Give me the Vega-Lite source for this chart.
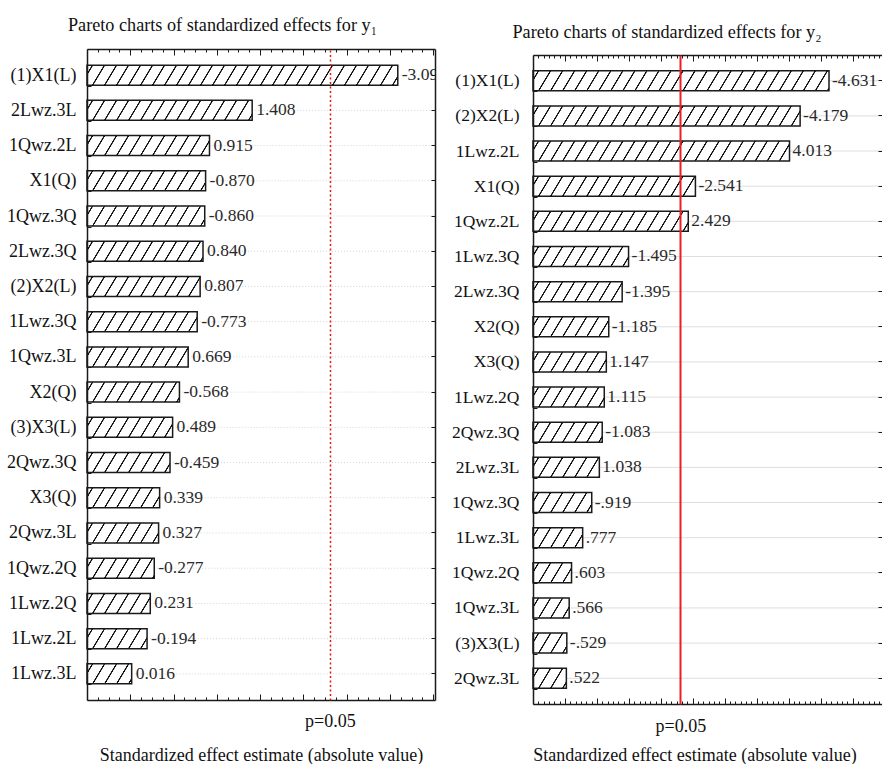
{
  "$schema": "https://vega.github.io/schema/vega-lite/v6.json",
  "background": "white",
  "padding": {"left": 6, "top": 15, "right": 0, "bottom": 0},
  "datasets": {
    "y1": [
      {"term": "(1)X1(L)", "value": 3.09, "label": "-3.09"},
      {"term": "2Lwz.3L", "value": 1.408, "label": "1.408"},
      {"term": "1Qwz.2L", "value": 0.915, "label": "0.915"},
      {"term": "X1(Q)", "value": 0.87, "label": "-0.870"},
      {"term": "1Qwz.3Q", "value": 0.86, "label": "-0.860"},
      {"term": "2Lwz.3Q", "value": 0.84, "label": "0.840"},
      {"term": "(2)X2(L)", "value": 0.807, "label": "0.807"},
      {"term": "1Lwz.3Q", "value": 0.773, "label": "-0.773"},
      {"term": "1Qwz.3L", "value": 0.669, "label": "0.669"},
      {"term": "X2(Q)", "value": 0.568, "label": "-0.568"},
      {"term": "(3)X3(L)", "value": 0.489, "label": "0.489"},
      {"term": "2Qwz.3Q", "value": 0.459, "label": "-0.459"},
      {"term": "X3(Q)", "value": 0.339, "label": "0.339"},
      {"term": "2Qwz.3L", "value": 0.327, "label": "0.327"},
      {"term": "1Qwz.2Q", "value": 0.277, "label": "-0.277"},
      {"term": "1Lwz.2Q", "value": 0.231, "label": "0.231"},
      {"term": "1Lwz.2L", "value": 0.194, "label": "-0.194"},
      {"term": "1Lwz.3L", "value": 0.016, "label": "0.016"}
    ],
    "y2": [
      {"term": "(1)X1(L)", "value": 4.631, "label": "-4.631"},
      {"term": "(2)X2(L)", "value": 4.179, "label": "-4.179"},
      {"term": "1Lwz.2L", "value": 4.013, "label": "4.013"},
      {"term": "X1(Q)", "value": 2.541, "label": "-2.541"},
      {"term": "1Qwz.2L", "value": 2.429, "label": "2.429"},
      {"term": "1Lwz.3Q", "value": 1.495, "label": "-1.495"},
      {"term": "2Lwz.3Q", "value": 1.395, "label": "-1.395"},
      {"term": "X2(Q)", "value": 1.185, "label": "-1.185"},
      {"term": "X3(Q)", "value": 1.147, "label": "1.147"},
      {"term": "1Lwz.2Q", "value": 1.115, "label": "1.115"},
      {"term": "2Qwz.3Q", "value": 1.083, "label": "-1.083"},
      {"term": "2Lwz.3L", "value": 1.038, "label": "1.038"},
      {"term": "1Qwz.3Q", "value": 0.919, "label": "-.919"},
      {"term": "1Lwz.3L", "value": 0.777, "label": ".777"},
      {"term": "1Qwz.2Q", "value": 0.603, "label": ".603"},
      {"term": "1Qwz.3L", "value": 0.566, "label": ".566"},
      {"term": "(3)X3(L)", "value": 0.529, "label": "-.529"},
      {"term": "2Qwz.3L", "value": 0.522, "label": ".522"}
    ]
  },
  "spacing": 98,
  "bounds": "flush",
  "hconcat": [
    {
      "width": 348,
      "height": 651,
      "data": {"name": "y1"},
      "title": {"text": "Pareto charts of standardized effects for y₁", "offset": 5, "frame": "group", "anchor": "middle", "dx": -38.5, "font": "Liberation Serif", "fontSize": 18.2, "fontWeight": "normal", "color": "#111"},
      "resolve": {"axis": {"x": "independent", "y": "independent"}},
      "layer": [
        {
          "mark": {"type": "bar", "size": 20, "stroke": null,
            "fill": {
              "gradient": "linear", "x1": 0, "y1": 0, "x2": 1.1, "y2": 0.0379,
              "stops": [
                {"offset": 0, "color": "#fff"},
                {"offset": 0.0120, "color": "#fff"}, {"offset": 0.0133, "color": "#111"}, {"offset": 0.0159, "color": "#111"}, {"offset": 0.0172, "color": "#fff"},
                {"offset": 0.0433, "color": "#fff"}, {"offset": 0.0446, "color": "#111"}, {"offset": 0.0472, "color": "#111"}, {"offset": 0.0485, "color": "#fff"},
                {"offset": 0.0746, "color": "#fff"}, {"offset": 0.0759, "color": "#111"}, {"offset": 0.0785, "color": "#111"}, {"offset": 0.0798, "color": "#fff"},
                {"offset": 0.1059, "color": "#fff"}, {"offset": 0.1072, "color": "#111"}, {"offset": 0.1098, "color": "#111"}, {"offset": 0.1111, "color": "#fff"},
                {"offset": 0.1372, "color": "#fff"}, {"offset": 0.1385, "color": "#111"}, {"offset": 0.1411, "color": "#111"}, {"offset": 0.1424, "color": "#fff"},
                {"offset": 0.1686, "color": "#fff"}, {"offset": 0.1699, "color": "#111"}, {"offset": 0.1725, "color": "#111"}, {"offset": 0.1738, "color": "#fff"},
                {"offset": 0.1999, "color": "#fff"}, {"offset": 0.2012, "color": "#111"}, {"offset": 0.2038, "color": "#111"}, {"offset": 0.2051, "color": "#fff"},
                {"offset": 0.2312, "color": "#fff"}, {"offset": 0.2325, "color": "#111"}, {"offset": 0.2351, "color": "#111"}, {"offset": 0.2364, "color": "#fff"},
                {"offset": 0.2625, "color": "#fff"}, {"offset": 0.2638, "color": "#111"}, {"offset": 0.2664, "color": "#111"}, {"offset": 0.2677, "color": "#fff"},
                {"offset": 0.2938, "color": "#fff"}, {"offset": 0.2951, "color": "#111"}, {"offset": 0.2977, "color": "#111"}, {"offset": 0.2990, "color": "#fff"},
                {"offset": 0.3251, "color": "#fff"}, {"offset": 0.3264, "color": "#111"}, {"offset": 0.3290, "color": "#111"}, {"offset": 0.3303, "color": "#fff"},
                {"offset": 0.3564, "color": "#fff"}, {"offset": 0.3577, "color": "#111"}, {"offset": 0.3603, "color": "#111"}, {"offset": 0.3616, "color": "#fff"},
                {"offset": 0.3877, "color": "#fff"}, {"offset": 0.3890, "color": "#111"}, {"offset": 0.3916, "color": "#111"}, {"offset": 0.3929, "color": "#fff"},
                {"offset": 0.4190, "color": "#fff"}, {"offset": 0.4203, "color": "#111"}, {"offset": 0.4229, "color": "#111"}, {"offset": 0.4242, "color": "#fff"},
                {"offset": 0.4503, "color": "#fff"}, {"offset": 0.4516, "color": "#111"}, {"offset": 0.4542, "color": "#111"}, {"offset": 0.4555, "color": "#fff"},
                {"offset": 0.4817, "color": "#fff"}, {"offset": 0.4830, "color": "#111"}, {"offset": 0.4856, "color": "#111"}, {"offset": 0.4869, "color": "#fff"},
                {"offset": 0.5130, "color": "#fff"}, {"offset": 0.5143, "color": "#111"}, {"offset": 0.5169, "color": "#111"}, {"offset": 0.5182, "color": "#fff"},
                {"offset": 0.5443, "color": "#fff"}, {"offset": 0.5456, "color": "#111"}, {"offset": 0.5482, "color": "#111"}, {"offset": 0.5495, "color": "#fff"},
                {"offset": 0.5756, "color": "#fff"}, {"offset": 0.5769, "color": "#111"}, {"offset": 0.5795, "color": "#111"}, {"offset": 0.5808, "color": "#fff"},
                {"offset": 0.6069, "color": "#fff"}, {"offset": 0.6082, "color": "#111"}, {"offset": 0.6108, "color": "#111"}, {"offset": 0.6121, "color": "#fff"},
                {"offset": 0.6382, "color": "#fff"}, {"offset": 0.6395, "color": "#111"}, {"offset": 0.6421, "color": "#111"}, {"offset": 0.6434, "color": "#fff"},
                {"offset": 0.6695, "color": "#fff"}, {"offset": 0.6708, "color": "#111"}, {"offset": 0.6734, "color": "#111"}, {"offset": 0.6747, "color": "#fff"},
                {"offset": 0.7008, "color": "#fff"}, {"offset": 0.7021, "color": "#111"}, {"offset": 0.7047, "color": "#111"}, {"offset": 0.7060, "color": "#fff"},
                {"offset": 0.7321, "color": "#fff"}, {"offset": 0.7334, "color": "#111"}, {"offset": 0.7360, "color": "#111"}, {"offset": 0.7373, "color": "#fff"},
                {"offset": 0.7634, "color": "#fff"}, {"offset": 0.7647, "color": "#111"}, {"offset": 0.7673, "color": "#111"}, {"offset": 0.7686, "color": "#fff"},
                {"offset": 0.7948, "color": "#fff"}, {"offset": 0.7961, "color": "#111"}, {"offset": 0.7987, "color": "#111"}, {"offset": 0.8000, "color": "#fff"},
                {"offset": 0.8261, "color": "#fff"}, {"offset": 0.8274, "color": "#111"}, {"offset": 0.8300, "color": "#111"}, {"offset": 0.8313, "color": "#fff"},
                {"offset": 0.8574, "color": "#fff"}, {"offset": 0.8587, "color": "#111"}, {"offset": 0.8613, "color": "#111"}, {"offset": 0.8626, "color": "#fff"},
                {"offset": 0.8887, "color": "#fff"}, {"offset": 0.8900, "color": "#111"}, {"offset": 0.8926, "color": "#111"}, {"offset": 0.8939, "color": "#fff"},
                {"offset": 0.9200, "color": "#fff"}, {"offset": 0.9213, "color": "#111"}, {"offset": 0.9239, "color": "#111"}, {"offset": 0.9252, "color": "#fff"},
                {"offset": 1, "color": "#fff"}
              ]
            }
          },
          "encoding": {
            "y": {"field": "term", "type": "nominal", "sort": null, "scale": {"paddingInner": 0.4, "paddingOuter": 0.442},
              "axis": {"orient": "left", "title": null, "grid": false, "domain": true, "domainColor": "#1a1a1a", "domainWidth": 1.5, "ticks": true, "tickBand": "extent", "tickSize": -4, "tickColor": "#1a1a1a", "tickWidth": 1, "labelFont": "Liberation Serif", "labelFontSize": 18, "labelColor": "#111", "labelPadding": 15, "zindex": 1}},
            "x": {"datum": -0.5, "type": "quantitative", "scale": {"domain": [-0.5, 3.52], "nice": false, "zero": false},
              "axis": {"orient": "bottom", "title": null, "grid": false, "labels": false, "domain": true, "domainColor": "#1a1a1a", "domainWidth": 1.5, "ticks": true, "tickColor": "#1a1a1a", "tickWidth": 1,
                "tickSize": {"condition": {"test": "datum.value % 0.5 === 0", "value": -6}, "value": -3},
                "values": [-0.5, -0.375, -0.25, -0.125, 0, 0.125, 0.25, 0.375, 0.5, 0.625, 0.75, 0.875, 1, 1.125, 1.25, 1.375, 1.5, 1.625, 1.75, 1.875, 2, 2.125, 2.25, 2.375, 2.5, 2.625, 2.75, 2.875, 3, 3.125, 3.25, 3.375, 3.5],
                "zindex": 1}},
            "x2": {"datum": 3.52}
          }
        },
        {
          "mark": {"type": "bar", "fill": "white", "stroke": null, "size": 24},
          "encoding": {
            "y": {"field": "term", "type": "nominal", "sort": null, "scale": {"paddingInner": 0.4, "paddingOuter": 0.442},
              "axis": {"orient": "right", "title": null, "grid": false, "labels": false, "domain": true, "domainColor": "#1a1a1a", "domainWidth": 1.5, "ticks": true, "tickSize": -4, "tickColor": "#1a1a1a", "tickWidth": 1, "zindex": 1}},
            "x": {"field": "value", "type": "quantitative", "scale": {"domain": [-0.5, 3.52], "nice": false, "zero": false},
              "axis": {"orient": "top", "title": null, "grid": false, "labels": false, "domain": true, "domainColor": "#1a1a1a", "domainWidth": 1.5, "ticks": true, "tickColor": "#1a1a1a", "tickWidth": 1,
                "tickSize": {"condition": {"test": "datum.value % 0.5 === 0", "value": -6}, "value": -3},
                "values": [-0.5, -0.375, -0.25, -0.125, 0, 0.125, 0.25, 0.375, 0.5, 0.625, 0.75, 0.875, 1, 1.125, 1.25, 1.375, 1.5, 1.625, 1.75, 1.875, 2, 2.125, 2.25, 2.375, 2.5, 2.625, 2.75, 2.875, 3, 3.125, 3.25, 3.375, 3.5],
                "zindex": 1}},
            "x2": {"datum": 3.52}
          }
        },
        {
          "mark": {"type": "rule", "color": "#d4d4d4", "strokeWidth": 1, "strokeDash": [1, 2]},
          "encoding": {
            "y": {"field": "term", "type": "nominal", "sort": null, "scale": {"paddingInner": 0.4, "paddingOuter": 0.442}, "axis": null},
            "x": {"field": "value", "type": "quantitative", "scale": {"domain": [-0.5, 3.52], "nice": false, "zero": false},
              "axis": {"orient": "bottom", "title": null, "grid": false, "labels": false, "domain": false, "values": [2.306], "ticks": true, "tickSize": -651, "tickColor": "#e8141b", "tickWidth": 1.5, "tickDash": [2, 2.5], "zindex": 1}},
            "x2": {"datum": 3.52}
          }
        },
        {
          "mark": {"type": "bar", "fill": "transparent", "stroke": "#1a1a1a", "strokeWidth": 1.5, "size": 20},
          "encoding": {
            "y": {"field": "term", "type": "nominal", "sort": null, "scale": {"paddingInner": 0.4, "paddingOuter": 0.442}, "axis": null},
            "x": {"field": "value", "type": "quantitative", "scale": {"domain": [-0.5, 3.52], "nice": false, "zero": false},
              "axis": {"orient": "bottom", "grid": false, "domain": false, "ticks": false, "values": [2.306], "labelExpr": "'p=0.05'", "labelFlush": false, "labelOverlap": false, "labelFont": "Liberation Serif", "labelFontSize": 18, "labelColor": "#111", "labelPadding": 12,
                "title": "Standardized effect estimate (absolute value)", "titleFont": "Liberation Serif", "titleFontSize": 18, "titleFontWeight": "normal", "titleColor": "#111", "titlePadding": 16, "zindex": 1}},
            "x2": {"datum": -0.5}
          }
        },
        {
          "mark": {"type": "text", "align": "left", "baseline": "middle", "dx": 4, "font": "Liberation Serif", "fontSize": 17.5, "color": "#2a2a2a", "clip": true},
          "encoding": {
            "y": {"field": "term", "type": "nominal", "sort": null, "scale": {"paddingInner": 0.4, "paddingOuter": 0.442}, "axis": null},
            "x": {"field": "value", "type": "quantitative", "scale": {"domain": [-0.5, 3.52], "nice": false, "zero": false}, "axis": null},
            "text": {"field": "label"}
          }
        }
      ]
    },
    {
      "width": 349,
      "height": 655,
      "data": {"name": "y2"},
      "title": {"text": "Pareto charts of standardized effects for y₂", "offset": -2, "frame": "group", "anchor": "middle", "dx": -40.5, "font": "Liberation Serif", "fontSize": 18.2, "fontWeight": "normal", "color": "#111"},
      "resolve": {"axis": {"x": "independent", "y": "independent"}},
      "layer": [
        {
          "mark": {"type": "bar", "size": 20, "stroke": null,
            "fill": {
              "gradient": "linear", "x1": 0, "y1": 0, "x2": 1.1, "y2": 0.0379,
              "stops": [
                {"offset": 0, "color": "#fff"},
                {"offset": 0.0120, "color": "#fff"}, {"offset": 0.0133, "color": "#111"}, {"offset": 0.0159, "color": "#111"}, {"offset": 0.0172, "color": "#fff"},
                {"offset": 0.0433, "color": "#fff"}, {"offset": 0.0446, "color": "#111"}, {"offset": 0.0472, "color": "#111"}, {"offset": 0.0485, "color": "#fff"},
                {"offset": 0.0746, "color": "#fff"}, {"offset": 0.0759, "color": "#111"}, {"offset": 0.0785, "color": "#111"}, {"offset": 0.0798, "color": "#fff"},
                {"offset": 0.1059, "color": "#fff"}, {"offset": 0.1072, "color": "#111"}, {"offset": 0.1098, "color": "#111"}, {"offset": 0.1111, "color": "#fff"},
                {"offset": 0.1372, "color": "#fff"}, {"offset": 0.1385, "color": "#111"}, {"offset": 0.1411, "color": "#111"}, {"offset": 0.1424, "color": "#fff"},
                {"offset": 0.1686, "color": "#fff"}, {"offset": 0.1699, "color": "#111"}, {"offset": 0.1725, "color": "#111"}, {"offset": 0.1738, "color": "#fff"},
                {"offset": 0.1999, "color": "#fff"}, {"offset": 0.2012, "color": "#111"}, {"offset": 0.2038, "color": "#111"}, {"offset": 0.2051, "color": "#fff"},
                {"offset": 0.2312, "color": "#fff"}, {"offset": 0.2325, "color": "#111"}, {"offset": 0.2351, "color": "#111"}, {"offset": 0.2364, "color": "#fff"},
                {"offset": 0.2625, "color": "#fff"}, {"offset": 0.2638, "color": "#111"}, {"offset": 0.2664, "color": "#111"}, {"offset": 0.2677, "color": "#fff"},
                {"offset": 0.2938, "color": "#fff"}, {"offset": 0.2951, "color": "#111"}, {"offset": 0.2977, "color": "#111"}, {"offset": 0.2990, "color": "#fff"},
                {"offset": 0.3251, "color": "#fff"}, {"offset": 0.3264, "color": "#111"}, {"offset": 0.3290, "color": "#111"}, {"offset": 0.3303, "color": "#fff"},
                {"offset": 0.3564, "color": "#fff"}, {"offset": 0.3577, "color": "#111"}, {"offset": 0.3603, "color": "#111"}, {"offset": 0.3616, "color": "#fff"},
                {"offset": 0.3877, "color": "#fff"}, {"offset": 0.3890, "color": "#111"}, {"offset": 0.3916, "color": "#111"}, {"offset": 0.3929, "color": "#fff"},
                {"offset": 0.4190, "color": "#fff"}, {"offset": 0.4203, "color": "#111"}, {"offset": 0.4229, "color": "#111"}, {"offset": 0.4242, "color": "#fff"},
                {"offset": 0.4503, "color": "#fff"}, {"offset": 0.4516, "color": "#111"}, {"offset": 0.4542, "color": "#111"}, {"offset": 0.4555, "color": "#fff"},
                {"offset": 0.4817, "color": "#fff"}, {"offset": 0.4830, "color": "#111"}, {"offset": 0.4856, "color": "#111"}, {"offset": 0.4869, "color": "#fff"},
                {"offset": 0.5130, "color": "#fff"}, {"offset": 0.5143, "color": "#111"}, {"offset": 0.5169, "color": "#111"}, {"offset": 0.5182, "color": "#fff"},
                {"offset": 0.5443, "color": "#fff"}, {"offset": 0.5456, "color": "#111"}, {"offset": 0.5482, "color": "#111"}, {"offset": 0.5495, "color": "#fff"},
                {"offset": 0.5756, "color": "#fff"}, {"offset": 0.5769, "color": "#111"}, {"offset": 0.5795, "color": "#111"}, {"offset": 0.5808, "color": "#fff"},
                {"offset": 0.6069, "color": "#fff"}, {"offset": 0.6082, "color": "#111"}, {"offset": 0.6108, "color": "#111"}, {"offset": 0.6121, "color": "#fff"},
                {"offset": 0.6382, "color": "#fff"}, {"offset": 0.6395, "color": "#111"}, {"offset": 0.6421, "color": "#111"}, {"offset": 0.6434, "color": "#fff"},
                {"offset": 0.6695, "color": "#fff"}, {"offset": 0.6708, "color": "#111"}, {"offset": 0.6734, "color": "#111"}, {"offset": 0.6747, "color": "#fff"},
                {"offset": 0.7008, "color": "#fff"}, {"offset": 0.7021, "color": "#111"}, {"offset": 0.7047, "color": "#111"}, {"offset": 0.7060, "color": "#fff"},
                {"offset": 0.7321, "color": "#fff"}, {"offset": 0.7334, "color": "#111"}, {"offset": 0.7360, "color": "#111"}, {"offset": 0.7373, "color": "#fff"},
                {"offset": 0.7634, "color": "#fff"}, {"offset": 0.7647, "color": "#111"}, {"offset": 0.7673, "color": "#111"}, {"offset": 0.7686, "color": "#fff"},
                {"offset": 0.7948, "color": "#fff"}, {"offset": 0.7961, "color": "#111"}, {"offset": 0.7987, "color": "#111"}, {"offset": 0.8000, "color": "#fff"},
                {"offset": 0.8261, "color": "#fff"}, {"offset": 0.8274, "color": "#111"}, {"offset": 0.8300, "color": "#111"}, {"offset": 0.8313, "color": "#fff"},
                {"offset": 0.8574, "color": "#fff"}, {"offset": 0.8587, "color": "#111"}, {"offset": 0.8613, "color": "#111"}, {"offset": 0.8626, "color": "#fff"},
                {"offset": 0.8887, "color": "#fff"}, {"offset": 0.8900, "color": "#111"}, {"offset": 0.8926, "color": "#111"}, {"offset": 0.8939, "color": "#fff"},
                {"offset": 0.9200, "color": "#fff"}, {"offset": 0.9213, "color": "#111"}, {"offset": 0.9239, "color": "#111"}, {"offset": 0.9252, "color": "#fff"},
                {"offset": 1, "color": "#fff"}
              ]
            }
          },
          "encoding": {
            "y": {"field": "term", "type": "nominal", "sort": null, "scale": {"range": [6, 655], "paddingInner": 0.4, "paddingOuter": 0.432},
              "axis": {"orient": "left", "title": null, "grid": false, "domain": true, "domainColor": "#1a1a1a", "domainWidth": 1.5, "ticks": true, "tickBand": "extent", "tickSize": -4, "tickColor": "#1a1a1a", "tickWidth": 1, "labelFont": "Liberation Serif", "labelFontSize": 17.5, "labelColor": "#111", "labelPadding": 18, "zindex": 1}},
            "x": {"datum": 0, "type": "quantitative", "scale": {"domain": [0, 5.46], "nice": false, "zero": false},
              "axis": {"orient": "bottom", "title": null, "grid": false, "labels": false, "domain": true, "domainColor": "#1a1a1a", "domainWidth": 1.5, "ticks": true, "tickColor": "#1a1a1a", "tickWidth": 1,
                "tickSize": {"condition": {"test": "datum.value % 0.5 === 0", "value": -6}, "value": -3},
                "values": [0, 0.0833, 0.1667, 0.25, 0.3333, 0.4167, 0.5, 0.5833, 0.6667, 0.75, 0.8333, 0.9167, 1, 1.0833, 1.1667, 1.25, 1.3333, 1.4167, 1.5, 1.5833, 1.6667, 1.75, 1.8333, 1.9167, 2, 2.0833, 2.1667, 2.25, 2.3333, 2.4167, 2.5, 2.5833, 2.6667, 2.75, 2.8333, 2.9167, 3, 3.0833, 3.1667, 3.25, 3.3333, 3.4167, 3.5, 3.5833, 3.6667, 3.75, 3.8333, 3.9167, 4, 4.0833, 4.1667, 4.25, 4.3333, 4.4167, 4.5, 4.5833, 4.6667, 4.75, 4.8333, 4.9167, 5, 5.0833, 5.1667, 5.25, 5.3333, 5.4167],
                "zindex": 1}},
            "x2": {"datum": 5.46}
          }
        },
        {
          "mark": {"type": "bar", "fill": "white", "stroke": null, "size": 24},
          "encoding": {
            "y": {"field": "term", "type": "nominal", "sort": null, "scale": {"range": [6, 655], "paddingInner": 0.4, "paddingOuter": 0.432},
              "axis": {"orient": "right", "title": null, "grid": false, "labels": false, "domain": false, "ticks": true, "tickSize": -4, "tickColor": "#1a1a1a", "tickWidth": 1, "zindex": 1}},
            "x": {"field": "value", "type": "quantitative", "scale": {"domain": [0, 5.46], "nice": false, "zero": false},
              "axis": {"orient": "top", "offset": -6, "title": null, "grid": false, "labels": false, "domain": true, "domainColor": "#1a1a1a", "domainWidth": 1.5, "ticks": true, "tickColor": "#1a1a1a", "tickWidth": 1,
                "tickSize": {"condition": {"test": "datum.value % 0.5 === 0", "value": -6}, "value": -3},
                "values": [0, 0.0833, 0.1667, 0.25, 0.3333, 0.4167, 0.5, 0.5833, 0.6667, 0.75, 0.8333, 0.9167, 1, 1.0833, 1.1667, 1.25, 1.3333, 1.4167, 1.5, 1.5833, 1.6667, 1.75, 1.8333, 1.9167, 2, 2.0833, 2.1667, 2.25, 2.3333, 2.4167, 2.5, 2.5833, 2.6667, 2.75, 2.8333, 2.9167, 3, 3.0833, 3.1667, 3.25, 3.3333, 3.4167, 3.5, 3.5833, 3.6667, 3.75, 3.8333, 3.9167, 4, 4.0833, 4.1667, 4.25, 4.3333, 4.4167, 4.5, 4.5833, 4.6667, 4.75, 4.8333, 4.9167, 5, 5.0833, 5.1667, 5.25, 5.3333, 5.4167],
                "zindex": 1}},
            "x2": {"datum": 5.46}
          }
        },
        {
          "mark": {"type": "rule", "color": "#dedede", "strokeWidth": 1},
          "encoding": {
            "y": {"field": "term", "type": "nominal", "sort": null, "scale": {"range": [6, 655], "paddingInner": 0.4, "paddingOuter": 0.432}, "axis": null},
            "x": {"field": "value", "type": "quantitative", "scale": {"domain": [0, 5.46], "nice": false, "zero": false},
              "axis": {"orient": "bottom", "title": null, "grid": false, "labels": false, "domain": false, "values": [2.306], "ticks": true, "tickSize": -649, "tickColor": "#ee1c24", "tickWidth": 2, "zindex": 1}},
            "x2": {"datum": 5.46}
          }
        },
        {
          "mark": {"type": "bar", "fill": "transparent", "stroke": "#1a1a1a", "strokeWidth": 1.5, "size": 20},
          "encoding": {
            "y": {"field": "term", "type": "nominal", "sort": null, "scale": {"range": [6, 655], "paddingInner": 0.4, "paddingOuter": 0.432}, "axis": null},
            "x": {"field": "value", "type": "quantitative", "scale": {"domain": [0, 5.46], "nice": false, "zero": false},
              "axis": {"orient": "bottom", "grid": false, "domain": false, "ticks": false, "values": [2.306], "labelExpr": "'p=0.05'", "labelFlush": false, "labelOverlap": false, "labelFont": "Liberation Serif", "labelFontSize": 18, "labelColor": "#111", "labelPadding": 13,
                "title": "Standardized effect estimate (absolute value)", "titleX": 161.5, "titleFont": "Liberation Serif", "titleFontSize": 18, "titleFontWeight": "normal", "titleColor": "#111", "titlePadding": 11, "zindex": 1}},
            "x2": {"datum": 0}
          }
        },
        {
          "mark": {"type": "text", "align": "left", "baseline": "middle", "dx": 3, "font": "Liberation Serif", "fontSize": 17.5, "color": "#2a2a2a", "clip": true},
          "encoding": {
            "y": {"field": "term", "type": "nominal", "sort": null, "scale": {"range": [6, 655], "paddingInner": 0.4, "paddingOuter": 0.432}, "axis": null},
            "x": {"field": "value", "type": "quantitative", "scale": {"domain": [0, 5.46], "nice": false, "zero": false}, "axis": null},
            "text": {"field": "label"}
          }
        }
      ]
    }
  ],
  "config": {
    "view": {"stroke": null},
    "axis": {"grid": false}
  }
}
